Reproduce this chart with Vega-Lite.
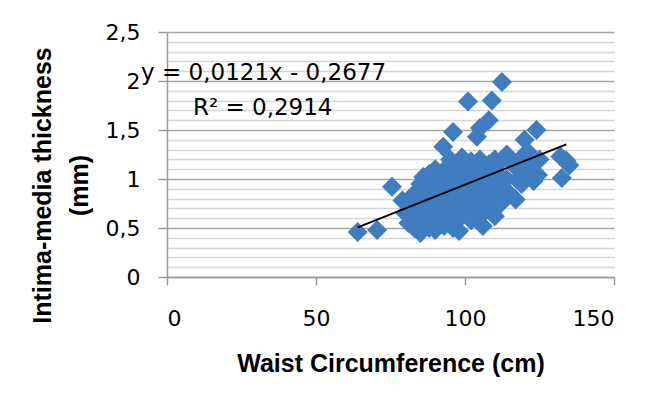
{
  "$schema": "https://vega.github.io/schema/vega-lite/v6.json",
  "width": 447,
  "height": 245,
  "autosize": "none",
  "padding": {"left": 167, "top": 32, "right": 39, "bottom": 120},
  "background": "white",
  "config": {"view": {"stroke": null}, "font": "DejaVu Sans"},
  "datasets": {
    "pts": [
      {"waist": 64, "imt": 0.46}, {"waist": 70.5, "imt": 0.48}, {"waist": 75.5, "imt": 0.92}, {"waist": 79, "imt": 0.78},
      {"waist": 80, "imt": 0.65}, {"waist": 81, "imt": 0.55}, {"waist": 82, "imt": 0.72}, {"waist": 83, "imt": 0.85},
      {"waist": 83, "imt": 0.5}, {"waist": 84, "imt": 0.62}, {"waist": 85, "imt": 0.95}, {"waist": 85, "imt": 0.75},
      {"waist": 85, "imt": 0.45}, {"waist": 86, "imt": 0.58}, {"waist": 86, "imt": 1.02}, {"waist": 87, "imt": 0.68},
      {"waist": 87, "imt": 0.85}, {"waist": 88, "imt": 0.5}, {"waist": 88, "imt": 0.95}, {"waist": 88, "imt": 1.05},
      {"waist": 89, "imt": 0.6}, {"waist": 89, "imt": 0.78}, {"waist": 90, "imt": 0.48}, {"waist": 90, "imt": 0.9},
      {"waist": 90, "imt": 1.1}, {"waist": 91, "imt": 0.65}, {"waist": 91, "imt": 0.55}, {"waist": 92, "imt": 0.82},
      {"waist": 92, "imt": 1.0}, {"waist": 92.7, "imt": 1.33}, {"waist": 93, "imt": 0.7}, {"waist": 93, "imt": 0.52},
      {"waist": 94, "imt": 1.12}, {"waist": 94, "imt": 0.92}, {"waist": 94, "imt": 0.6}, {"waist": 95, "imt": 0.78},
      {"waist": 95, "imt": 1.2}, {"waist": 96, "imt": 0.5}, {"waist": 96, "imt": 1.48}, {"waist": 96, "imt": 0.68},
      {"waist": 96, "imt": 1.02}, {"waist": 97, "imt": 0.88}, {"waist": 97, "imt": 0.58}, {"waist": 98, "imt": 1.15},
      {"waist": 98, "imt": 0.72}, {"waist": 98, "imt": 0.47}, {"waist": 99, "imt": 0.95}, {"waist": 99, "imt": 1.22},
      {"waist": 99, "imt": 0.62}, {"waist": 100, "imt": 0.8}, {"waist": 100, "imt": 1.05}, {"waist": 101, "imt": 1.79},
      {"waist": 101, "imt": 0.68}, {"waist": 101, "imt": 0.9}, {"waist": 102, "imt": 1.18}, {"waist": 102, "imt": 0.58},
      {"waist": 102, "imt": 1.0}, {"waist": 103, "imt": 0.75}, {"waist": 103, "imt": 0.85}, {"waist": 104, "imt": 1.43},
      {"waist": 104, "imt": 1.1}, {"waist": 104, "imt": 0.65}, {"waist": 105, "imt": 1.52}, {"waist": 105, "imt": 0.95},
      {"waist": 105, "imt": 1.2}, {"waist": 106, "imt": 0.52}, {"waist": 106, "imt": 0.78}, {"waist": 106, "imt": 1.05},
      {"waist": 107, "imt": 0.68}, {"waist": 107, "imt": 0.88}, {"waist": 108, "imt": 1.6}, {"waist": 108, "imt": 1.15},
      {"waist": 108, "imt": 0.72}, {"waist": 109, "imt": 1.8}, {"waist": 109, "imt": 0.95}, {"waist": 110, "imt": 0.62},
      {"waist": 110, "imt": 1.2}, {"waist": 110, "imt": 0.82}, {"waist": 111, "imt": 1.05}, {"waist": 112, "imt": 0.75},
      {"waist": 112, "imt": 1.18}, {"waist": 112.4, "imt": 1.99}, {"waist": 113, "imt": 0.9}, {"waist": 114, "imt": 1.25},
      {"waist": 114, "imt": 1.0}, {"waist": 115, "imt": 0.85}, {"waist": 116, "imt": 1.15}, {"waist": 117, "imt": 0.79},
      {"waist": 117.5, "imt": 0.99}, {"waist": 118, "imt": 1.1}, {"waist": 119, "imt": 1.22}, {"waist": 119, "imt": 0.95},
      {"waist": 120, "imt": 1.4}, {"waist": 120, "imt": 1.05}, {"waist": 121, "imt": 1.28}, {"waist": 122, "imt": 1.12},
      {"waist": 123, "imt": 0.98}, {"waist": 124, "imt": 1.5}, {"waist": 124.5, "imt": 1.04}, {"waist": 125, "imt": 1.2},
      {"waist": 132, "imt": 1.23}, {"waist": 132.5, "imt": 1.01}, {"waist": 134, "imt": 1.19}, {"waist": 135, "imt": 1.14}
    ],
    "trend": [
      {"waist": 64, "imt": 0.507},
      {"waist": 134, "imt": 1.354}
    ],
    "notes": [
      {"waist": -8.7, "imt": 2.08, "label": "y = 0,0121x - 0,2677"},
      {"waist": 8.7, "imt": 1.72, "label": "R² = 0,2914"}
    ]
  },
  "layer": [
    {
      "data": {"name": "pts"},
      "mark": {"type": "point", "shape": "diamond", "filled": true, "size": 400, "color": "#3F7CC0", "opacity": 1},
      "encoding": {
        "x": {
          "field": "waist", "type": "quantitative",
          "scale": {"domain": [0, 150], "nice": false},
          "axis": {
            "values": [0, 50, 100, 150],
            "grid": false,
            "labelOverlap": false,
            "title": "Waist Circumference (cm)",
            "titleFont": "Liberation Sans", "titleFontSize": 25, "titleFontWeight": "bold", "titleColor": "#000000",
            "titlePadding": 22,
            "labelFont": "DejaVu Sans", "labelFontSize": 22, "labelColor": "#000000", "labelPadding": 23,
            "tickSize": 8, "tickColor": "#9a9a9a", "tickWidth": 1.5,
            "domainColor": "#9a9a9a", "domainWidth": 1.5
          }
        },
        "y": {
          "field": "imt", "type": "quantitative",
          "scale": {"domain": [0, 2.5], "nice": false},
          "axis": {
            "values": [0, 0.1, 0.2, 0.3, 0.4, 0.5, 0.6, 0.7, 0.8, 0.9, 1, 1.1, 1.2, 1.3, 1.4, 1.5, 1.6, 1.7, 1.8, 1.9, 2, 2.1, 2.2, 2.3, 2.4, 2.5],
            "tickCount": 40,
            "labelOverlap": false,
            "labelExpr": "abs(datum.value*2 - round(datum.value*2)) < 0.001 ? replace(format(datum.value, '.1~f'), '.', ',') : ''",
            "title": ["Intima-media thickness", "(mm)"],
            "titleFont": "Liberation Sans", "titleFontSize": 25, "titleFontWeight": "bold", "titleColor": "#000000",
            "titleLineHeight": 37, "titlePadding": 13, "titleY": 153,
            "labelFont": "DejaVu Sans", "labelFontSize": 22, "labelColor": "#000000", "labelPadding": 18,
            "tickSize": 9, "tickColor": "#9a9a9a", "tickWidth": 1.5,
            "tickOpacity": {"condition": {"test": "abs(datum.value*2 - round(datum.value*2)) < 0.001", "value": 1}, "value": 0},
            "grid": true,
            "gridColor": {"condition": {"test": "abs(datum.value*2 - round(datum.value*2)) < 0.001", "value": "#a6a6a6"}, "value": "#d6d6d6"},
            "gridWidth": 1.5,
            "domainColor": "#9a9a9a", "domainWidth": 1.5
          }
        }
      }
    },
    {
      "data": {"name": "trend"},
      "mark": {"type": "line", "color": "#000000", "strokeWidth": 2},
      "encoding": {
        "x": {"field": "waist", "type": "quantitative"},
        "y": {"field": "imt", "type": "quantitative"}
      }
    },
    {
      "data": {"name": "notes"},
      "mark": {"type": "text", "align": "left", "baseline": "middle", "font": "DejaVu Sans", "fontSize": 23, "color": "#000000", "clip": false},
      "encoding": {
        "x": {"field": "waist", "type": "quantitative"},
        "y": {"field": "imt", "type": "quantitative"},
        "text": {"field": "label"}
      }
    }
  ]
}
